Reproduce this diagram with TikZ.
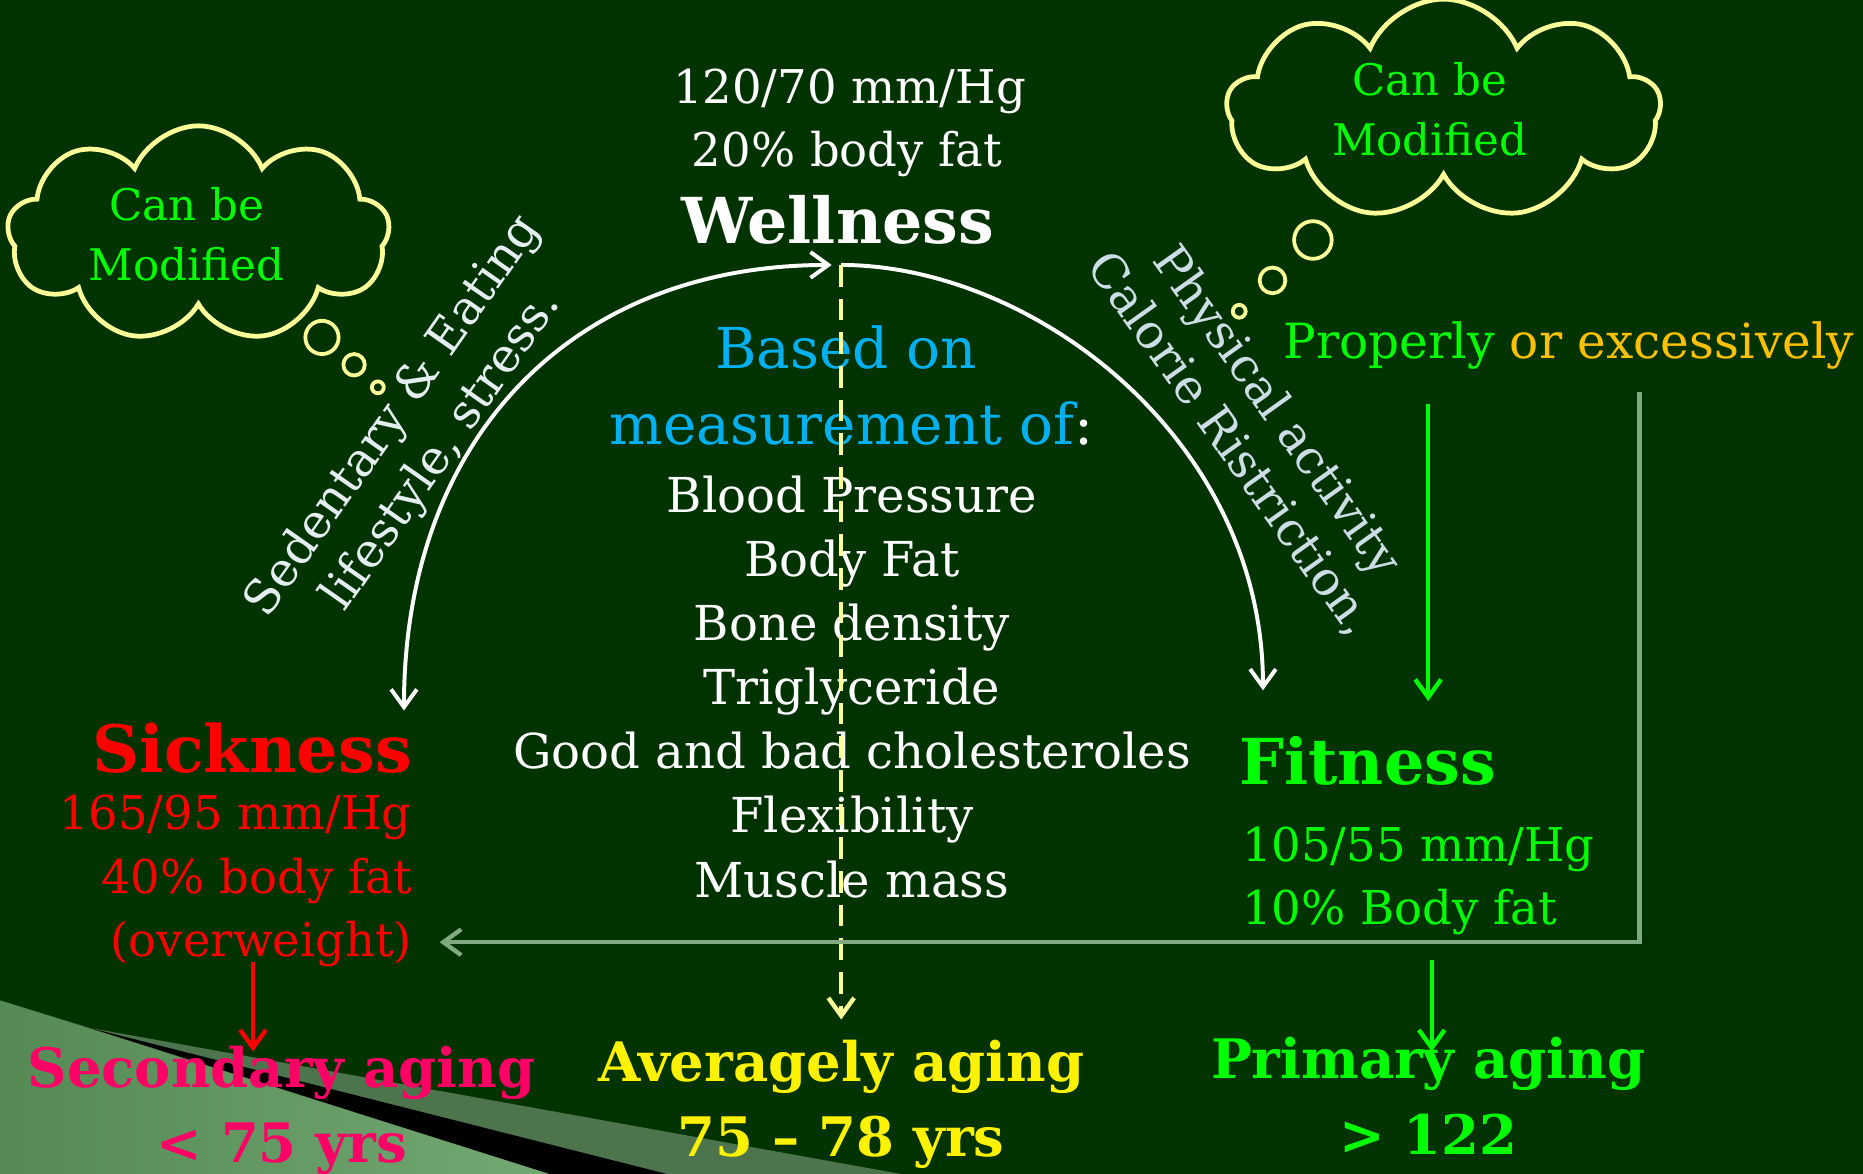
\documentclass[tikz,border=0pt]{standalone}
\usepackage{fontspec}
\setmainfont{DejaVu Serif}
\usetikzlibrary{arrows.meta,shapes.symbols}
\definecolor{board}{HTML}{003300}
\definecolor{paleyellow}{HTML}{FFFF99}
\definecolor{brightgreen}{HTML}{00FF00}
\definecolor{skyblue}{HTML}{00B0F0}
\definecolor{pinkred}{HTML}{FF0066}
\definecolor{amber}{HTML}{FFC000}
\definecolor{sage}{HTML}{80AA80}
\definecolor{chalkL}{HTML}{E4EEF0}
\definecolor{chalkR}{HTML}{CCDDE6}
\definecolor{midband}{HTML}{4D754D}
\definecolor{bandL}{HTML}{558A55}
\definecolor{bandR}{HTML}{72A872}

\tikzset{
  txt/.style={inner sep=0pt,anchor=base},
  valtxt/.style={txt,font=\fontsize{23.5}{28}\selectfont},
  agetxt/.style={txt,font=\bfseries\fontsize{27.5}{33}\selectfont},
  cloudbox/.style={cloud,cloud puffs=9,cloud puff arc=135,aspect=2,draw=paleyellow,
    line width=2.4pt,text=brightgreen,align=center,inner sep=0pt,
    font=\fontsize{22}{30}\selectfont},
  bubble/.style={circle,draw=paleyellow,line width=1.9pt,inner sep=0pt},
  arcline/.style={white,line width=2pt},
  greenline/.style={brightgreen,line width=2.2pt},
}

\begin{document}
\begin{tikzpicture}[x=0.6pt,y=-0.6pt,>={Straight Barb[length=9pt,width=13pt]}]
\fill[board] (0,0) rectangle (1568,988);
\useasboundingbox (0,0) rectangle (1568,988);

% corner decoration
\fill[midband] (0,842) -- (75,865) -- (758,988) -- (0,988) -- cycle;
\fill[black] (75,865) -- (561,988) -- (462,988) -- cycle;
\shade[left color=bandL,right color=bandR] (0,842) -- (462,988) -- (0,988) -- cycle;

% top
\node[txt,white,font=\fontsize{23.5}{28}\selectfont] (bp) at (715,87) {120/70 mm/Hg};
\node[txt,white,font=\fontsize{23.5}{28}\selectfont] (fat) at (713,140) {20\% body fat};
\node[txt,white,font=\bfseries\fontsize{32}{38}\selectfont] (well) at (705,205) {Wellness};

% clouds
\node[cloudbox,minimum width=193pt,minimum height=99pt] (cloudL) at (167,197) {Can be\hspace*{12pt}\\Modified\hspace*{12pt}};
\node[bubble,minimum size=16.8pt] (bL1) at (271,284) {};
\node[bubble,minimum size=10.8pt] (bL2) at (298,307) {};
\node[bubble,minimum size=6pt] (bL3) at (318,326) {};

\node[cloudbox,minimum width=219pt,minimum height=111pt] (cloudR) at (1215,92) {Can be\hspace*{14pt}\\Modified\hspace*{14pt}};
\node[bubble,minimum size=19pt] (bR1) at (1105,202) {};
\node[bubble,minimum size=13pt] (bR2) at (1071,236) {};
\node[bubble,minimum size=6.5pt] (bR3) at (1043,262) {};

% rotated labels
\node[rotate=55,align=center,text=chalkL,inner sep=0pt,font=\fontsize{24}{30}\selectfont] (sed) at (352,365) {Sedentary \& Eating\\lifestyle, stress.};
\node[rotate=-54.5,align=center,text=chalkR,inner sep=0pt,font=\fontsize{24}{29}\selectfont] (phys) at (1055,360) {Physical activity\\Calorie Ristriction,};

% middle column
\node[txt,text=skyblue,font=\fontsize{28.5}{34}\selectfont] (based) at (712,310) {Based on};
\node[txt,white,font=\fontsize{28.5}{34}\selectfont] (meas) at (717,374) {\color{skyblue}measurement of\color{white}:};
\foreach \item [count=\i] in {Blood Pressure,Body Fat,Bone density,Triglyceride,Good and bad cholesteroles,Flexibility,Muscle mass}
  \node[txt,white,font=\fontsize{24.3}{30}\selectfont] (m\i) at (717,377+54*\i) {\item};

% sickness
\node[txt,anchor=base east,red,font=\bfseries\fontsize{33}{40}\selectfont] (sick) at (347,650) {Sickness};
\node[valtxt,anchor=base east,red] (sick1) at (347,698) {165/95 mm/Hg};
\node[valtxt,anchor=base east,red] (sick2) at (347,752) {40\% body fat};
\node[valtxt,anchor=base east,red] (sick3) at (347,805) {(overweight)};

% fitness
\node[txt,anchor=base west,brightgreen,font=\bfseries\fontsize{32}{38}\selectfont] (fit) at (1043,660) {Fitness};
\node[valtxt,anchor=base west,brightgreen] (fit1) at (1045,725) {105/55 mm/Hg};
\node[valtxt,anchor=base west,brightgreen] (fit2) at (1045,778) {10\% Body fat};

\node[txt,anchor=base west,font=\fontsize{24.5}{30}\selectfont] (prop) at (1080,302) {\color{brightgreen}Properly \color{amber}or excessively};

% aging
\node[agetxt,pinkred] (sec) at (237,915) {Secondary aging};
\node[agetxt,pinkred] (sec1) at (237,978) {< 75 yrs};
\node[agetxt,yellow] (avg) at (708,910) {Averagely aging};
\node[agetxt,yellow] (avg1) at (708,973) {75 – 78 yrs};
\node[agetxt,brightgreen] (prim) at (1202,908) {Primary aging};
\node[agetxt,brightgreen] (prim1) at (1202,972) {> 122};

% connectors
\coordinate (sicktip) at (340,598);
\coordinate (welltip) at (700,223);
\coordinate (wellstart) at (708,223);
\coordinate (fittip) at (1063,581);
\coordinate (avgtip) at (708,858);
\coordinate (propstart) at (1202,340);
\coordinate (fitin) at (1202,590);
\coordinate (fitout) at (1205,808);
\coordinate (primin) at (1205,885);
\coordinate (sickout) at (213,810);
\coordinate (secin) at (213,885);
\coordinate (excstart) at (1380,330);
\coordinate (sickin) at (370,793);

\draw[arcline,<->] (sicktip) .. controls (340,370) and (480,223) .. (welltip);
\draw[arcline,->] (wellstart) .. controls (868,223) and (1063,368) .. (fittip);
\draw[paleyellow,line width=2.2pt,dash pattern=on 11pt off 6pt,->] (wellstart) -- (avgtip);
\draw[sage,line width=2.2pt,->] (excstart) |- (sickin);
\draw[greenline,->] (propstart) -- (fitin);
\draw[greenline,->] (fitout) -- (primin);
\draw[red,line width=2.2pt,->] (sickout) -- (secin);
\end{tikzpicture}
\end{document}
